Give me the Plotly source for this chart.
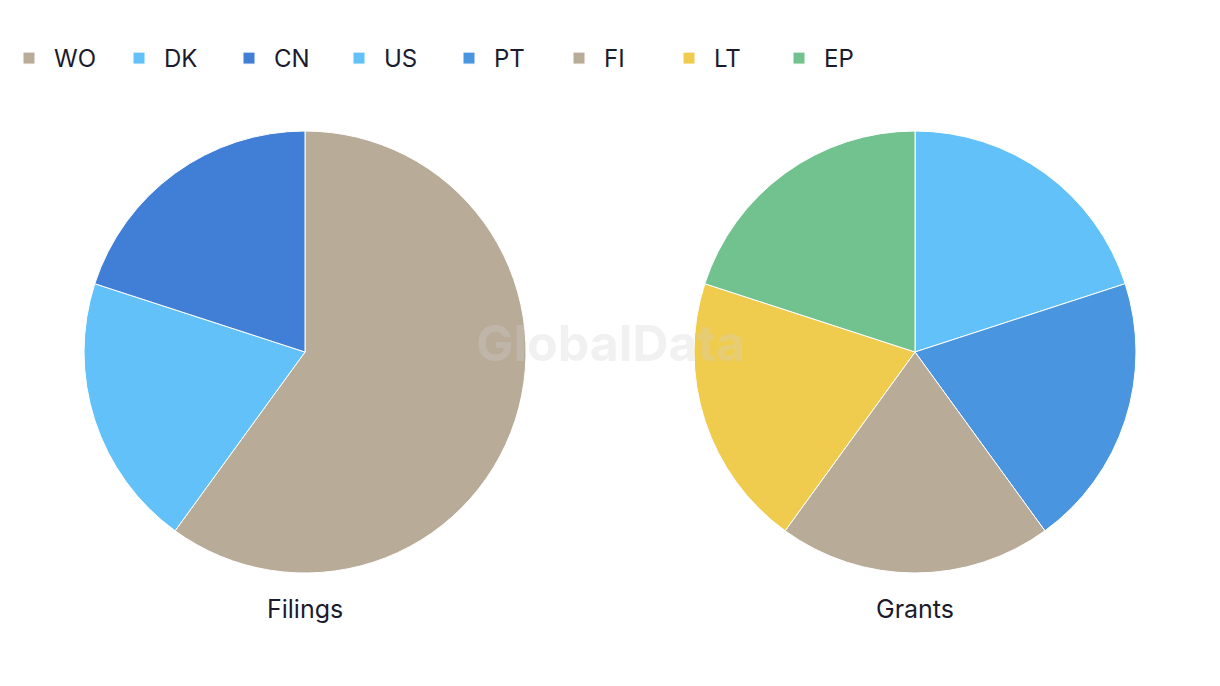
import plotly.graph_objects as go

filing_labels = ["WO", "DK", "CN"]
filing_values = [60, 20, 20]
filing_colors = ["#b8ab98", "#62c1f9", "#417ed6"]

grant_labels = ["US", "PT", "FI", "LT", "EP"]
grant_values = [20, 20, 20, 20, 20]
grant_colors = ["#62c1f9", "#4a95e0", "#b8ab98", "#efcc4e", "#72c290"]

titles = ["Filings", "Grants"]

W, H = 1220, 686
text_color = "#1b1b2e"
font_family = "Inter, Roboto, Arial, sans-serif"

fig = go.Figure()

def dom(cx):
    r = 221
    return dict(x=[(cx - r) / W, (cx + r) / W], y=[(H - 352 - r) / H, (H - 352 + r) / H])

fig.add_trace(go.Pie(
    labels=filing_labels, values=filing_values,
    marker=dict(colors=filing_colors, line=dict(color="white", width=1)),
    sort=False, direction="clockwise", rotation=0,
    textinfo="none", hoverinfo="label+percent",
    domain=dom(305),
))
fig.add_trace(go.Pie(
    labels=grant_labels, values=grant_values,
    marker=dict(colors=grant_colors, line=dict(color="white", width=1)),
    sort=False, direction="clockwise", rotation=0,
    textinfo="none", hoverinfo="label+percent",
    domain=dom(915),
))

annotations = []
for t, cx in zip(titles, [305, 915]):
    annotations.append(dict(
        text=t, x=cx / W, y=(H - 609) / H, xref="paper", yref="paper",
        showarrow=False, xanchor="center", yanchor="middle",
        font=dict(size=25, color=text_color, family=font_family),
    ))
annotations.append(dict(
    text="<b>GlobalData</b>", x=610 / W, y=(H - 343) / H, xref="paper", yref="paper",
    showarrow=False, xanchor="center", yanchor="middle",
    font=dict(size=50, color="rgba(210,210,210,0.3)", family=font_family),
))

fig.update_layout(
    width=W, height=H,
    margin=dict(l=0, r=0, t=0, b=0),
    paper_bgcolor="white", plot_bgcolor="white",
    font=dict(family=font_family, color=text_color),
    showlegend=True,
    legend=dict(
        orientation="h", x=4 / W, y=1 - 36 / H, xanchor="left", yanchor="top",
        font=dict(size=24, color=text_color, family=font_family),
        traceorder="normal", itemwidth=40,
        entrywidth=55, entrywidthmode="pixels",
    ),
    annotations=annotations,
)

fig.write_html("out.html")
